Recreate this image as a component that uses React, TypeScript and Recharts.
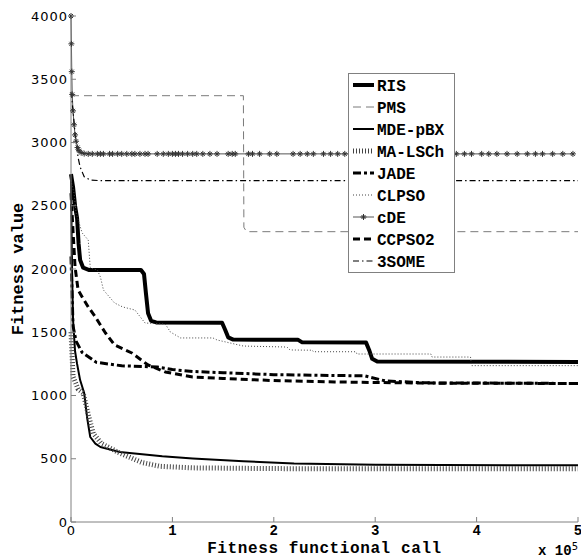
import React from 'react';
import { LineChart, Line, XAxis, YAxis, Legend } from 'recharts';

type P = [number, number];

const X_TICKS = [0, 1, 2, 3, 4, 5];
const Y_TICKS = [0, 500, 1000, 1500, 2000, 2500, 3000, 3500, 4000];

const RIS: P[] = [[0, 2750], [0.02, 2650], [0.04, 2500], [0.06, 2400], [0.075, 2200], [0.09, 2071], [0.12, 2010], [0.18, 1992], [0.69, 1992], [0.72, 1960], [0.74, 1800], [0.76, 1650], [0.79, 1590], [0.84, 1578], [1.49, 1575], [1.52, 1520], [1.55, 1460], [1.6, 1442], [2.24, 1440], [2.28, 1420], [2.91, 1418], [2.94, 1360], [2.97, 1290], [3.02, 1268], [5, 1265]];
const PMS: P[] = [[0, 3370], [1.7, 3370], [1.705, 2330], [1.73, 2295], [5, 2295]];
const MDE_PBX: P[] = [[0, 2700], [0.01, 2000], [0.02, 1600], [0.04, 1350], [0.06, 1250], [0.09, 1122], [0.13, 1020], [0.16, 820], [0.19, 672], [0.24, 620], [0.29, 593], [0.48, 553], [0.9, 520], [1.2, 502], [1.7, 480], [2.2, 462], [3.0, 452], [5, 448]];
const MA_LSCH: P[] = [[0, 1500], [0.02, 1150], [0.07, 1050], [0.12, 1020], [0.17, 850], [0.22, 700], [0.3, 620], [0.48, 545], [0.7, 470], [0.88, 440], [1.2, 428], [2, 422], [5, 420]];
const JADE: P[] = [[0, 2100], [0.02, 1550], [0.05, 1430], [0.11, 1340], [0.25, 1262], [0.5, 1235], [0.85, 1225], [1.0, 1205], [1.2, 1190], [1.5, 1180], [2.0, 1165], [2.9, 1155], [3.1, 1115], [3.5, 1100], [5, 1095]];
const CLPSO: P[] = [[0, 2700], [0.03, 2600], [0.05, 2443], [0.11, 2285], [0.17, 2229], [0.19, 2008], [0.26, 1992], [0.29, 1937], [0.32, 1834], [0.43, 1731], [0.51, 1700], [0.63, 1676], [0.73, 1573], [0.93, 1565], [0.98, 1502], [1.08, 1455], [1.4, 1455], [1.44, 1439], [1.57, 1415], [1.7, 1391], [2.13, 1383], [2.16, 1360], [2.38, 1358], [2.39, 1346], [2.81, 1346], [2.82, 1328], [3.55, 1328], [3.56, 1304], [3.94, 1304], [3.95, 1236], [5, 1236]];
const CDE: P[] = [[0, 4000], [0.004, 3780], [0.008, 3560], [0.012, 3380], [0.02, 3250], [0.03, 3140], [0.04, 3060], [0.05, 3010], [0.065, 2960], [0.08, 2935], [0.1, 2920], [0.13, 2912], [0.17, 2910], [0.21, 2910], [0.26, 2910], [0.29, 2910], [0.32, 2910], [0.38, 2910], [0.41, 2910], [0.46, 2910], [0.5, 2910], [0.55, 2910], [0.6, 2910], [0.63, 2910], [0.68, 2910], [0.73, 2910], [0.76, 2910], [0.85, 2910], [0.91, 2910], [0.96, 2910], [1.0, 2910], [1.03, 2910], [1.06, 2910], [1.1, 2910], [1.15, 2910], [1.2, 2910], [1.24, 2910], [1.3, 2910], [1.37, 2910], [1.44, 2910], [1.55, 2910], [1.59, 2910], [1.62, 2910], [1.75, 2910], [1.79, 2910], [1.86, 2910], [1.96, 2910], [2.03, 2910], [2.19, 2910], [2.26, 2910], [2.33, 2910], [2.39, 2910], [2.49, 2910], [2.56, 2910], [2.63, 2910], [2.7, 2910], [2.78, 2910], [2.85, 2910], [2.95, 2910], [3.05, 2910], [3.12, 2910], [3.2, 2910], [3.3, 2910], [3.38, 2910], [3.45, 2910], [3.55, 2910], [3.62, 2910], [3.7, 2910], [3.8, 2910], [3.88, 2910], [3.95, 2910], [4.05, 2910], [4.12, 2910], [4.2, 2910], [4.3, 2910], [4.4, 2910], [4.5, 2910], [4.58, 2910], [4.65, 2910], [4.75, 2910], [4.85, 2910], [4.95, 2910]];
const CCPSO2: P[] = [[0, 2600], [0.02, 2300], [0.04, 2016], [0.07, 1834], [0.11, 1779], [0.17, 1700], [0.24, 1621], [0.34, 1494], [0.43, 1399], [0.6, 1336], [0.76, 1241], [0.93, 1186], [1.2, 1146], [1.5, 1135], [2.0, 1118], [2.6, 1107], [3.5, 1098], [5, 1095]];
const SOME3: P[] = [[0, 3400], [0.02, 3250], [0.04, 3075], [0.07, 2880], [0.09, 2806], [0.13, 2730], [0.19, 2703], [0.3, 2698], [5, 2698]];

type Series = { name: string; points: P[]; stroke: string; width: number; dash?: string; marker?: boolean };

const SERIES: Series[] = [
  { name: 'RIS', points: RIS, stroke: '#000', width: 4 },
  { name: 'PMS', points: PMS, stroke: '#7a7a7a', width: 1, dash: '8 5' },
  { name: 'MDE-pBX', points: MDE_PBX, stroke: '#000', width: 2 },
  { name: 'MA-LSCh', points: MA_LSCH, stroke: '#444', width: 5, dash: '1 2' },
  { name: 'JADE', points: JADE, stroke: '#000', width: 3, dash: '8 3 3 3' },
  { name: 'CLPSO', points: CLPSO, stroke: '#444', width: 1, dash: '1 2' },
  { name: 'cDE', points: CDE, stroke: '#555', width: 1, marker: true },
  { name: 'CCPSO2', points: CCPSO2, stroke: '#000', width: 3, dash: '7 4' },
  { name: '3SOME', points: SOME3, stroke: '#000', width: 1.2, dash: '6 3 1.5 3' },
];

const toData = (pts: P[]) => pts.map(([x, y]) => ({ x, y }));

const starPath = (cx: number, cy: number) =>
  `M${cx - 3},${cy}H${cx + 3}M${cx},${cy - 3}V${cy + 3}M${cx - 2},${cy - 2}L${cx + 2},${cy + 2}M${cx - 2},${cy + 2}L${cx + 2},${cy - 2}`;

const StarDot = (props: any) => {
  const { cx, cy, index } = props;
  if (cx == null || cy == null) return <g key={`s${index}`} />;
  return <path key={`s${index}`} d={starPath(cx, cy)} stroke="#333" strokeWidth={1} fill="none" />;
};

const AXIS_GRAY = '#808080';
const MONO = '"Liberation Mono", "DejaVu Sans Mono", monospace';
const SANS = '"DejaVu Sans", sans-serif';

const YTick = (props: any) => {
  const { x, y, payload } = props;
  return (
    <g>
      <line x1={x + 3} x2={x + 8} y1={y} y2={y} stroke={AXIS_GRAY} />
      <text x={x} y={y} dy="0.36em" textAnchor="end" fontFamily={SANS} fontSize={13} letterSpacing={1} fill="#000">
        {payload.value}
      </text>
    </g>
  );
};

const XTick = (props: any) => {
  const { x, y, payload } = props;
  const isZero = payload.value === 0;
  return (
    <g>
      <line x1={x} x2={x} y1={y} y2={y - 5} stroke={AXIS_GRAY} />
      <text
        x={x}
        y={y + 13}
        textAnchor="middle"
        fontFamily={isZero ? SANS : MONO}
        fontWeight={isZero ? 'normal' : 'bold'}
        fontSize={isZero ? 13 : 14}
        fill="#000"
      >
        {payload.value}
      </text>
    </g>
  );
};

const YLabel = (props: any) => {
  const vb = props.viewBox || {};
  const cx = 18;
  const cy = vb.y + vb.height / 2;
  return (
    <text x={cx} y={cy} transform={`rotate(-90 ${cx} ${cy})`} textAnchor="middle" dominantBaseline="central" fontFamily={MONO} fontWeight="bold" fontSize={17} fill="#000">
      Fitness value
    </text>
  );
};

const XLabel = (props: any) => {
  const vb = props.viewBox || {};
  return (
    <g>
      <text x={vb.x + vb.width / 2} y={vb.y + 31} textAnchor="middle" fontFamily={MONO} fontWeight="bold" fontSize={16} letterSpacing={0.6} fill="#000">
        Fitness functional call
      </text>
      <text x={vb.x + vb.width} y={vb.y + 33} textAnchor="end" fontFamily={MONO} fontWeight="bold" fontSize={14} fill="#000">
        <tspan>x 10</tspan>
        <tspan dy={-5} fontFamily={SANS} fontWeight="normal" fontSize={10}>5</tspan>
      </text>
    </g>
  );
};

const LEG_W = 107;
const LEG_H = 200;

const renderLegend = () => (
  <svg width={LEG_W} height={LEG_H} style={{ display: 'block' }}>
    <rect x={0.5} y={0.5} width={LEG_W - 1} height={LEG_H - 1} fill="#fff" stroke={AXIS_GRAY} />
    {SERIES.map((s, i) => {
      const cy = 12 + i * 22;
      return (
        <g key={s.name}>
          <line x1={5} x2={26} y1={cy} y2={cy} stroke={s.stroke} strokeWidth={s.width} strokeDasharray={s.dash} />
          {s.marker ? <path d={starPath(15.5, cy)} stroke="#333" strokeWidth={1} fill="none" /> : null}
          <text x={29} y={cy} dy="0.36em" fontFamily={MONO} fontWeight="bold" fontSize={16} fill="#000">
            {s.name}
          </text>
        </g>
      );
    })}
  </svg>
);

export default function App() {
  return (
    <div style={{ position: 'absolute', left: 0, top: 0, width: 581, height: 560, background: '#fff' }}>
      <LineChart width={581} height={560} margin={{ top: 16, right: 3, bottom: 0, left: 0 }}>
        <XAxis
          dataKey="x"
          type="number"
          domain={[0, 5]}
          ticks={X_TICKS}
          interval={0}
          height={38}
          tickSize={0}
          tickMargin={0}
          tickLine={false}
          axisLine={{ stroke: AXIS_GRAY }}
          tick={<XTick />}
          label={{ content: (p: any) => <XLabel {...p} /> }}
          allowDuplicatedCategory={false}
        />
        <YAxis
          type="number"
          domain={[0, 4000]}
          ticks={Y_TICKS}
          interval={0}
          width={71}
          tickSize={0}
          tickMargin={3}
          tickLine={false}
          axisLine={{ stroke: AXIS_GRAY }}
          tick={<YTick />}
          label={{ content: (p: any) => <YLabel {...p} /> }}
        />
        {SERIES.map((s) => (
          <Line
            key={s.name}
            name={s.name}
            data={toData(s.points)}
            dataKey="y"
            type="linear"
            stroke={s.stroke}
            strokeWidth={s.width}
            strokeDasharray={s.dash}
            strokeLinejoin="round"
            dot={s.marker ? (p: any) => <StarDot {...p} /> : false}
            activeDot={false}
            isAnimationActive={false}
          />
        ))}
        <Legend
          content={renderLegend}
          layout="vertical"
          align="center"
          verticalAlign="middle"
          wrapperStyle={{ position: 'absolute', left: 348, top: 73, width: LEG_W, height: LEG_H }}
        />
      </LineChart>
    </div>
  );
}
